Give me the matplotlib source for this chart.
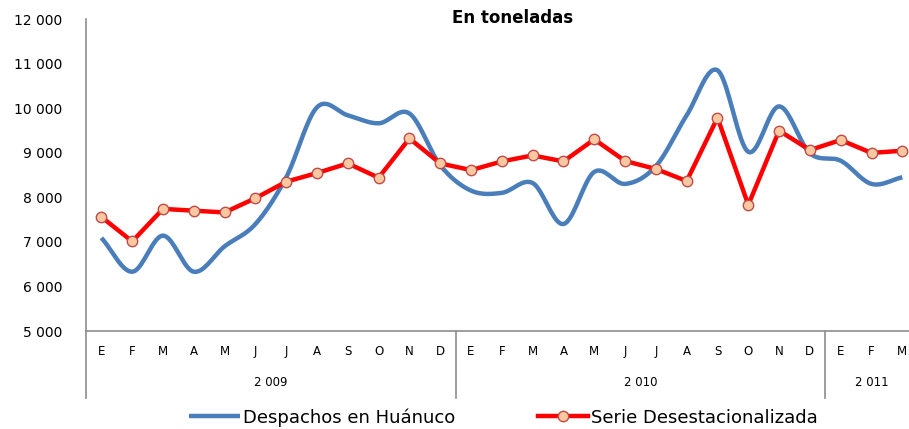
import matplotlib
matplotlib.use('Agg')
import matplotlib.pyplot as plt
import matplotlib.transforms as mtransforms
from matplotlib.ticker import FuncFormatter
import numpy as np


# Data (toneladas)
months = ['E', 'F', 'M', 'A', 'M', 'J', 'J', 'A', 'S', 'O', 'N', 'D',
          'E', 'F', 'M', 'A', 'M', 'J', 'J', 'A', 'S', 'O', 'N', 'D',
          'E', 'F', 'M']
years = ['2 009', '2 010', '2 011']
year_counts = [12, 12, 3]

despachos = [7090, 6330, 7140, 6330, 6900, 7400, 8450, 10020, 9840, 9660, 9880, 8720,
             8150, 8100, 8320, 7400, 8570, 8300, 8700, 9840, 10850, 9020, 10040, 8990,
             8820, 8300, 8450]
desestacionalizada = [7560, 7010, 7740, 7700, 7660, 7980, 8350, 8545, 8760, 8440, 9320, 8760,
                      8610, 8805, 8940, 8805, 9300, 8815, 8635, 8365, 9785, 7830, 9495, 9060,
                      9285, 8995, 9045]


def smooth(xs, ys, n=20):
    # Catmull-Rom curve, like Excel's "smoothed line"
    xs = np.asarray(xs, float)
    ys = np.asarray(ys, float)
    px = np.concatenate([[2 * xs[0] - xs[1]], xs, [2 * xs[-1] - xs[-2]]])
    py = np.concatenate([[2 * ys[0] - ys[1]], ys, [2 * ys[-1] - ys[-2]]])
    out_x, out_y = [], []
    t = np.linspace(0, 1, n, endpoint=False)
    for i in range(1, len(px) - 2):
        for p, out in ((px, out_x), (py, out_y)):
            p0, p1, p2, p3 = p[i - 1], p[i], p[i + 1], p[i + 2]
            out.extend(0.5 * ((2 * p1) + (-p0 + p2) * t
                              + (2 * p0 - 5 * p1 + 4 * p2 - p3) * t ** 2
                              + (-p0 + 3 * p1 - 3 * p2 + p3) * t ** 3))
    out_x.append(xs[-1])
    out_y.append(ys[-1])
    return np.array(out_x), np.array(out_y)


x = np.arange(len(months))

fig = plt.figure(figsize=(9.09, 4.29), dpi=100)
ax = fig.add_axes([0.0946, 0.2284, 0.915, 0.7273])

sx, sy = smooth(x, despachos)
ax.plot(sx, sy, color='#4a7ebb', lw=3.2, solid_capstyle='butt',
        label='Despachos en Huánuco')
ax.plot(x, desestacionalizada, color='#ff0000', lw=3.2, marker='o', markersize=7.5,
        markerfacecolor='#fac8a0', markeredgecolor='#be4b48', markeredgewidth=1.0,
        label='Serie Desestacionalizada')

ax.set_xlim(-0.5, len(months) - 0.5)
ax.set_ylim(5000, 12000)
ax.set_yticks(range(5000, 12001, 1000))
ax.yaxis.set_major_formatter(FuncFormatter(lambda v, p: f'{int(v):,}'.replace(',', ' ')))
ax.tick_params(axis='y', length=0, labelsize=10, pad=17)

ax.set_xticks(x)
ax.set_xticklabels(months, fontsize=8.5)
ax.tick_params(axis='x', length=0, pad=10)

for s in ['top', 'right']:
    ax.spines[s].set_visible(False)
for s in ['left', 'bottom']:
    ax.spines[s].set_color('#8c8c8c')
    ax.spines[s].set_linewidth(1.2)

trans = mtransforms.blended_transform_factory(ax.transData, ax.transAxes)
start = 0
bounds = [-0.5]
for yr, cnt in zip(years, year_counts):
    ax.text(start + (cnt - 1) / 2, -0.165, yr, transform=trans, ha='center',
            va='center', fontsize=8.5)
    start += cnt
    bounds.append(start - 0.5)
for b in bounds:
    ax.plot([b, b], [0, -0.215], transform=trans, color='#8c8c8c', lw=1.2,
            clip_on=False)

fig.text(0.564, 0.958, 'En toneladas', ha='center', va='center',
         fontsize=12, fontweight='bold')

fig.legend(loc='center', bbox_to_anchor=(0.554, 0.027), ncol=2, frameon=False,
           fontsize=13, handlelength=2.8, columnspacing=4.6, handletextpad=0.15,
           borderaxespad=0)

fig.savefig('out.png', dpi=100)
